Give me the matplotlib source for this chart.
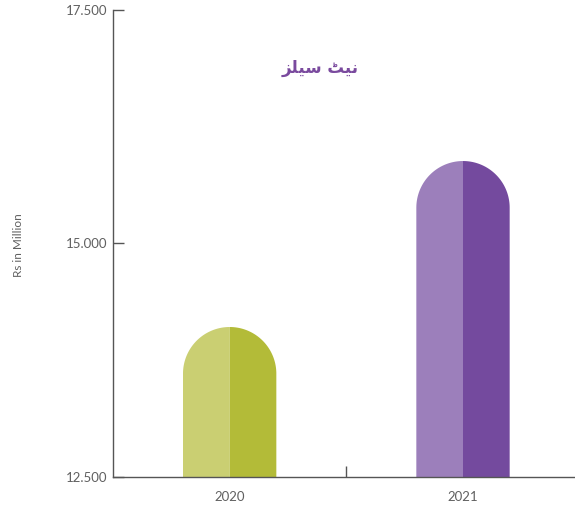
import matplotlib
matplotlib.use("Agg")
import matplotlib.pyplot as plt
from matplotlib.patches import Polygon
import numpy as np

# data
years = ["2020", "2021"]
net_sales = [14106, 15883]
light_cols = ["#cacf72", "#9c7fbb"]
dark_cols = ["#b3bb38", "#744a9e"]
ytick_vals = [12500, 15000, 17500]
ytick_labels = ["12.500", "15.000", "17.500"]
title_txt = "\ufeb0\ufee0\ufbff\ufeb3 \ufb67\ufbff\ufee7"  # نیٹ سیلز, shaped + visual order

W, H, dpi = 575, 507, 100
fig = plt.figure(figsize=(W / dpi, H / dpi), dpi=dpi)
ax = fig.add_axes([113 / W, 30 / H, 462 / W, 467 / H])

ymin, ymax = 12500, 17500
xmin, xmax = -0.5, 1.48
ax.set_xlim(xmin, xmax)
ax.set_ylim(ymin, ymax)

bw = 0.4
# pixels per data unit, to keep the dome round
px_x = 462 / (xmax - xmin)
px_y = 467 / (ymax - ymin)

for i, v in enumerate(net_sales):
    r = bw / 2
    ry = r * px_x / px_y
    top = v - ry
    # left half
    t = np.linspace(np.pi / 2, np.pi, 60)
    left = [(i, ymin), (i, v)] + [(i + r * np.cos(a), top + ry * np.sin(a)) for a in t] + [(i - r, ymin)]
    ax.add_patch(Polygon(left, closed=True, fc=light_cols[i], ec="none", zorder=2))
    # right half
    t = np.linspace(np.pi / 2, 0, 60)
    right = [(i, ymin), (i, v)] + [(i + r * np.cos(a), top + ry * np.sin(a)) for a in t] + [(i + r, ymin)]
    ax.add_patch(Polygon(right, closed=True, fc=dark_cols[i], ec="none", zorder=2))

grey = "#555555"
lab_grey = "#606060"
for s in ["top", "right"]:
    ax.spines[s].set_visible(False)
for s in ["left", "bottom"]:
    ax.spines[s].set_color(grey)
    ax.spines[s].set_linewidth(1.0)

ax.set_yticks(ytick_vals)
ax.set_yticklabels(ytick_labels)
ax.tick_params(axis="y", direction="in", length=8, width=1, color=grey,
               labelcolor=lab_grey, labelsize=9.5, pad=4)
ax.set_xticks([0, 1])
ax.set_xticklabels(years)
ax.tick_params(axis="x", length=0, labelcolor=lab_grey, labelsize=9.5, pad=10)
ax.set_xticks([0.5], minor=True)
ax.tick_params(axis="x", which="minor", direction="in", length=8, width=1, color=grey)
for lab in ax.get_yticklabels() + ax.get_xticklabels():
    lab.set_family(["Lato", "DejaVu Sans"])

fig.text(18 / W, 1 - 245 / H, "Rs in Million", rotation=90, ha="center", va="center",
         color=lab_grey, fontsize=8.5, family=["Lato", "DejaVu Sans"])

ax.text(0.448, 0.876, title_txt, transform=ax.transAxes, ha="center", va="center",
        color="#7a4a9e", fontsize=12, fontweight="bold", family=["DejaVu Sans"])

fig.savefig("out.png", dpi=dpi)
